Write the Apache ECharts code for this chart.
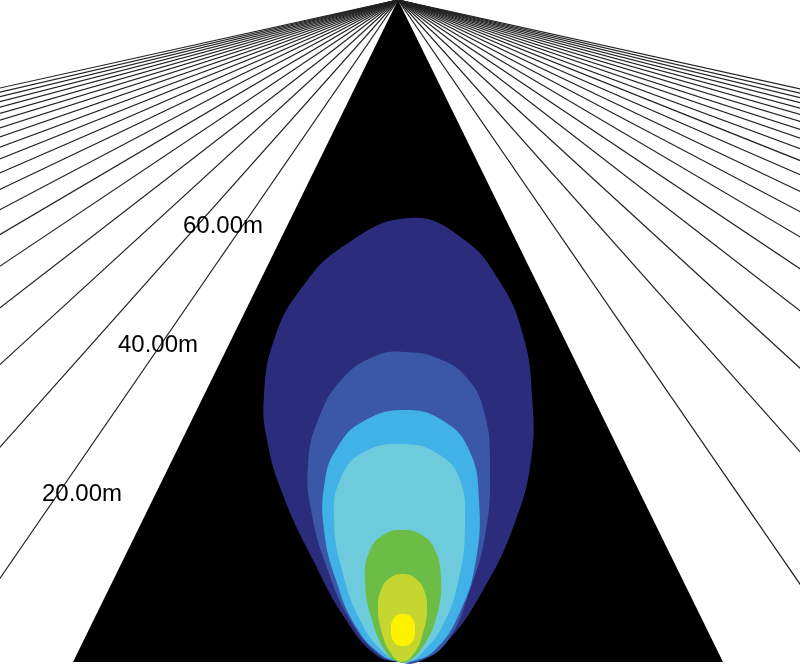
<!DOCTYPE html>
<html><head><meta charset="utf-8">
<script src="https://cdn.jsdelivr.net/npm/echarts@6/dist/echarts.min.js"></script>
<style>html,body{margin:0;padding:0;background:#fff}#c{width:800px;height:664px}</style>
</head><body><div id="c"></div>
<script>
// ---- data (picture units: x 0..800, depth y 0..664 from horizon) ----
const vanishingPoint = [398, 0];
const roadBase = [[73, 662], [723, 662]];
// lateral offsets (at the base line) of the perspective guide lines, both sides
const rayOffsets = [457, 591, 725, 859, 993, 1127, 1261, 1395, 1529, 1663, 1797, 1931, 2065, 2199, 2333, 2467, 2601, 2735, 2869, 3003];
const distanceLabels = ['20.00m', '40.00m', '60.00m'];
const labelX = [42, 118, 183];
const labelY = [494, 345, 226];

const contourNavy = [[400,662],[376,655],[346,620],[312,558],[283,495],[267,440],[264,395],[274,340],[300,290],[345,245],[410,218],[462,238],[500,282],[523,335],[532,395],[531,460],[514,525],[482,592],[446,643],[418,662]];
const contourBlue = [[399,662],[378,654],[350,620],[326,565],[311,510],[308,465],[318,420],[343,378],[378,355],[405,352],[437,358],[467,378],[485,415],[490,470],[486,530],[470,590],[446,643],[416,662]];
const contourSky = [[400,662],[380,654],[355,625],[336,580],[324,530],[325,480],[337,448],[362,422],[405,410],[445,422],[470,452],[479,500],[476,560],[460,612],[435,650],[410,662]];
const contourCyan = [[401,662],[383,652],[360,620],[342,570],[334,520],[340,480],[362,453],[403,444],[440,455],[460,480],[465,525],[459,578],[443,625],[420,655],[408,662]];
const contourGreen = [[399,662],[386,652],[372,620],[365,580],[370,550],[385,534],[403,530],[420,534],[434,548],[441,578],[437,615],[424,645],[410,660]];
const contourLime = [[402,662],[390,652],[382,633],[378,610],[381,590],[390,578],[403,574],[415,578],[424,590],[427,610],[423,633],[415,652]];
const contourYellow = [[403,614],[412,618],[415,630],[412,642],[403,646],[394,642],[391,630],[394,618]];

const contours = [contourNavy, contourBlue, contourSky, contourCyan, contourGreen, contourLime, contourYellow];
const contourColors = ['#2b2d7c', '#3a57a8', '#40b2e8', '#6ecbdc', '#6bbd45', '#c4d62f', '#fff200'];

const chart = echarts.init(document.getElementById('c'), null, {renderer: 'canvas'});
chart.setOption({
  animation: false,
  backgroundColor: '#ffffff',
  grid: {left: 0, right: 0, top: 0, bottom: 0},
  xAxis: {type: 'value', min: 0, max: 800, show: false},
  yAxis: {type: 'value', min: 0, max: 664, inverse: true, show: false},
  series: [
    {
      type: 'custom', clip: true, data: [0],
      renderItem: function (params, api) {
        const pts = [vanishingPoint, roadBase[0], roadBase[1]].map(p => api.coord(p));
        return {type: 'polygon', shape: {points: pts}, style: {fill: '#000000'}};
      }
    },
    {
      type: 'custom', clip: true, data: rayOffsets,
      renderItem: function (params, api) {
        const off = rayOffsets[params.dataIndex];
        const a = api.coord(vanishingPoint);
        const l = api.coord([vanishingPoint[0] - off, 664]);
        const r = api.coord([vanishingPoint[0] + off, 664]);
        const st = {stroke: '#222222', lineWidth: 1.2, fill: null};
        return {type: 'group', children: [
          {type: 'line', shape: {x1: a[0], y1: a[1], x2: l[0], y2: l[1]}, style: st},
          {type: 'line', shape: {x1: a[0], y1: a[1], x2: r[0], y2: r[1]}, style: st}
        ]};
      }
    },
    {
      type: 'custom', clip: true, data: contours.map((c, i) => i),
      renderItem: function (params, api) {
        const i = params.dataIndex;
        const pts = contours[i].map(p => api.coord(p));
        return {type: 'polygon', shape: {points: pts, smooth: 0.45}, style: {fill: contourColors[i]}};
      }
    },
    {
      type: 'custom', clip: false, data: distanceLabels.map((t, i) => i),
      renderItem: function (params, api) {
        const i = params.dataIndex;
        const p = api.coord([labelX[i], labelY[i]]);
        return {type: 'text', style: {text: distanceLabels[i], x: p[0], y: p[1], fill: '#000',
          font: '24px "Liberation Sans", Arial, sans-serif', textAlign: 'left', textVerticalAlign: 'middle'}};
      }
    }
  ]
});
</script></body></html>
